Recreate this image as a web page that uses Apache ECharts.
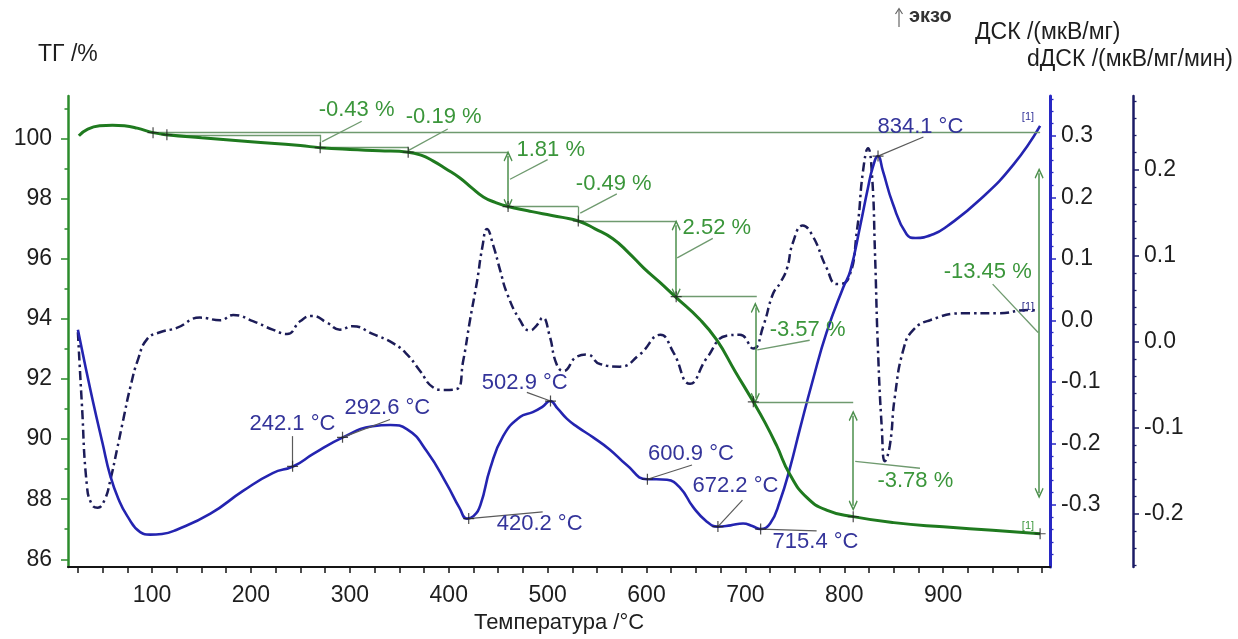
<!DOCTYPE html>
<html><head><meta charset="utf-8">
<script src="https://cdn.jsdelivr.net/npm/echarts@6/dist/echarts.min.js"></script>
<style>html,body{margin:0;padding:0;background:#fff}#c{width:1238px;height:639px}</style>
</head><body><div id="c"></div>
<script>
// ---------- data ----------
const tgT = [26, 35, 47, 60, 72, 85, 101, 115, 150, 200, 250, 270, 300, 330, 359, 372, 384, 397, 411, 423, 435, 447, 460, 480, 495, 515, 531, 548, 566, 582, 597, 613, 629, 654, 671, 689.5, 708, 720, 731.6, 745, 762, 782, 809, 850, 900, 950, 998];
const tgV = [100.1, 100.32, 100.43, 100.45, 100.43, 100.35, 100.2, 100.13, 100.03, 99.9, 99.77, 99.7, 99.64, 99.6, 99.55, 99.45, 99.26, 99.0, 98.7, 98.37, 98.06, 97.88, 97.74, 97.6, 97.5, 97.38, 97.26, 97.0, 96.67, 96.2, 95.7, 95.23, 94.74, 93.98, 93.3, 92.26, 91.24, 90.54, 89.78, 88.82, 88.06, 87.64, 87.42, 87.22, 87.08, 86.97, 86.85];

const dscT = [25, 32, 40, 50, 57.5, 66, 75, 88, 98, 110, 125, 159, 192, 222, 243, 263, 293, 323, 341, 358, 378, 398, 411, 418.5, 425, 432, 442, 455, 472, 485, 495, 502.5, 510, 519.6, 530, 546, 563, 580, 600.5, 610, 620.7, 634, 647, 661, 672, 685, 697.6, 707, 714.8, 725, 735, 745, 755, 768, 782, 799, 806, 816, 824, 829, 834, 839, 849, 863, 872, 890, 904, 937, 971, 998];
const dscV = [-0.015, -0.07, -0.13, -0.2, -0.251, -0.29, -0.318, -0.344, -0.348, -0.347, -0.34, -0.314, -0.277, -0.248, -0.237, -0.217, -0.19, -0.172, -0.17, -0.177, -0.213, -0.266, -0.305, -0.322, -0.318, -0.3, -0.24, -0.188, -0.157, -0.149, -0.14, -0.131, -0.143, -0.16, -0.173, -0.19, -0.21, -0.235, -0.258, -0.258, -0.259, -0.272, -0.303, -0.327, -0.335, -0.333, -0.33, -0.334, -0.339, -0.33, -0.293, -0.24, -0.177, -0.098, -0.02, 0.054, 0.08, 0.153, 0.216, 0.25, 0.267, 0.243, 0.19, 0.14, 0.134, 0.14, 0.153, 0.196, 0.253, 0.316];

const ddT = [25, 29, 34, 39, 45, 52, 58, 64.6, 71, 78, 86, 95, 108, 125, 148.5, 169, 182, 202, 222, 236.5, 250, 262, 277, 290, 303, 323, 344, 358, 371, 384, 394, 408, 414.5, 421.5, 428.6, 434, 438.7, 445, 452, 459, 472, 482, 489, 495, 502, 509, 516, 530, 540, 553, 573, 593, 614, 627, 644, 661, 681, 694.5, 708, 718, 728, 735, 742, 748, 758, 768, 782, 792.5, 804, 813, 819, 824, 828, 831, 834, 838, 841, 846, 851, 860, 870, 886.6, 920, 954, 988, 996];
const ddV = [0.011, -0.072, -0.166, -0.189, -0.193, -0.184, -0.16, -0.125, -0.09, -0.053, -0.02, 0.003, 0.011, 0.016, 0.028, 0.025, 0.031, 0.024, 0.014, 0.009, 0.024, 0.03, 0.022, 0.014, 0.018, 0.009, -0.002, -0.015, -0.034, -0.053, -0.056, -0.055, -0.023, 0.025, 0.07, 0.11, 0.131, 0.112, 0.083, 0.056, 0.025, 0.013, 0.019, 0.028, 0.007, -0.026, -0.034, -0.017, -0.015, -0.026, -0.029, -0.015, 0.008, -0.012, -0.049, -0.019, 0.007, 0.008, -0.008, 0.018, 0.056, 0.068, 0.085, 0.115, 0.135, 0.123, 0.086, 0.067, 0.073, 0.131, 0.199, 0.225, 0.194, 0.104, -0.008, -0.102, -0.139, -0.121, -0.065, -0.008, 0.014, 0.025, 0.033, 0.033, 0.037, 0.035];

// tick values / labels
const xTicks = [25, 50, 75, 100, 125, 150, 175, 200, 225, 250, 275, 300, 325, 350, 375, 400, 425, 450, 475, 500, 525, 550, 575, 600, 625, 650, 675, 700, 725, 750, 775, 800, 825, 850, 875, 900, 925, 950, 975, 1000];
const xLabels = [100, 200, 300, 400, 500, 600, 700, 800, 900];
const tgLabels = [86, 88, 90, 92, 94, 96, 98, 100];
const tgMinor = [87, 89, 91, 93, 95, 97, 99, 101];
const dscLabels = [-0.3, -0.2, -0.1, 0, 0.1, 0.2, 0.3];
const dscMinor = [-0.38, -0.36, -0.34, -0.32, -0.28, -0.26, -0.24, -0.22, -0.18, -0.16, -0.14, -0.12, -0.08, -0.06, -0.04, -0.02, 0.02, 0.04, 0.06, 0.08, 0.12, 0.14, 0.16, 0.18, 0.22, 0.24, 0.26, 0.28, 0.32, 0.34, 0.36];
const ddLabels = [-0.2, -0.1, 0, 0.1, 0.2];
const ddMinor = [-0.26, -0.24, -0.22, -0.18, -0.16, -0.14, -0.12, -0.08, -0.06, -0.04, -0.02, 0.02, 0.04, 0.06, 0.08, 0.12, 0.14, 0.16, 0.18, 0.22, 0.24, 0.26, 0.28];

// TG evaluation marks (data coordinates: temperature, %)
const tgMarkT = [101, 115, 270, 359, 460, 531, 630, 708, 809, 998];
const tgMarkV = [100.2, 100.13, 99.7, 99.55, 97.74, 97.26, 94.74, 91.24, 87.42, 86.85];
const tgHLines = [[101, 998, 100.22], [115, 270, 100.13], [270, 359, 99.7], [359, 460, 99.55], [460, 531, 97.74], [531, 630, 97.26], [630, 711.5, 94.74], [708, 809, 91.24]];
const tgVLines = [[270, 100.13, 99.7], [359, 99.7, 99.55], [531, 97.74, 97.26]];
const tgArrows = [[460, 99.42, 97.82], [630, 97.12, 94.84], [710, 94.38, 91.36], [809, 90.78, 87.78], [997, 98.85, 88.2]];
const tgLeaders = [[272, 99.9, 312, 100.58], [359, 99.6, 399, 100.32], [462, 98.65, 500, 99.3], [533, 97.52, 570, 98.16], [631, 96.03, 667, 96.68], [712, 92.97, 765, 93.29], [811, 89.26, 876.5, 89.03], [996, 93.55, 950, 95.16]];
const tgStepText = ['-0.43 %', '-0.19 %', '1.81 %', '-0.49 %', '2.52 %', '-3.57 %', '-3.78 %', '-13.45 %'];
const tgStepAt = [[268, 100.97], [356, 100.71], [468, 99.61], [528, 98.48], [636, 97.03], [724, 93.65], [833, 88.61], [900, 95.55]];

// DSC peak marks
const dscMarkT = [242.1, 292.6, 420.2, 502.9, 600.9, 672.2, 715.4, 834.1];
const dscMarkV = [-0.237, -0.19, -0.322, -0.131, -0.258, -0.335, -0.339, 0.267];
const dscLeaders = [[242.1, -0.237, 242.1, -0.188], [292.6, -0.19, 340.6, -0.161], [420.2, -0.322, 495, -0.311], [502.9, -0.131, 479, -0.117], [600.9, -0.258, 646, -0.235], [672.2, -0.335, 697, -0.292], [715.4, -0.339, 772, -0.342], [834.1, 0.267, 880, 0.298]];
const dscText = ['242.1 °C', '292.6 °C', '420.2 °C', '502.9 °C', '600.9 °C', '672.2 °C', '715.4 °C', '834.1 °C'];
const dscTextAt = [[198, -0.169], [294, -0.1425], [448, -0.33], [433, -0.1016], [601, -0.2165], [646, -0.2685], [727, -0.3606], [833, 0.3142]];

// ---------- drawing ----------
const FONT = '"Liberation Sans", Arial, Helvetica, sans-serif';
const zip = (a, b) => a.map((v, i) => [v, b[i]]);
const CROSS = 'path://M0,4.45 H10 V5.55 H0 Z M4.45,0 H5.55 V10 H4.45 Z';
const CHEV = 'path://M5,0 L10,9 L8.9,10 L5,3.3 L1.1,10 L0,9 Z';
const GREEN_TXT = '#3b963b', GREEN_LN = '#6f9a6f', GREEN_AR = '#4c8f4c';
const BLUE_TXT = '#34349a', GRAY_LN = '#5a5a5a';

function labelPoints(pos, texts, color, size) {
  return pos.map((p, i) => ({
    coord: p, symbol: 'circle', symbolSize: 1, itemStyle: {color: 'rgba(0,0,0,0)'},
    label: {show: true, position: 'right', distance: 0, formatter: texts[i], color: color, fontSize: size, fontFamily: FONT}
  }));
}

const tgMarkLines = []
  .concat(tgHLines.map(h => [{coord: [h[0], h[2]]}, {coord: [h[1], h[2]]}]))
  .concat(tgVLines.map(v => [{coord: [v[0], v[1]]}, {coord: [v[0], v[2]]}]))
  .concat(tgLeaders.map(l => [{coord: [l[0], l[1]]}, {coord: [l[2], l[3]]}]))
  .concat(tgArrows.map(a => [
    {coord: [a[0], a[1]], symbol: CHEV, symbolSize: [9, 11], lineStyle: {color: GREEN_AR, width: 1.5}},
    {coord: [a[0], a[2]], symbol: CHEV, symbolSize: [9, 11]}]));

const dscMarkLines = dscLeaders.map(l => [{coord: [l[0], l[1]]}, {coord: [l[2], l[3]]}]);

const chart = echarts.init(document.getElementById('c'), null, {renderer: 'canvas'});
const tickLbl = {fontSize: 23, color: '#1e1e1e', fontFamily: FONT};

chart.setOption({
  animation: false,
  backgroundColor: '#ffffff',
  grid: {left: 68, right: 188, top: 96, bottom: 57, containLabel: false},
  xAxis: [{
    type: 'value', min: 15, max: 1008,
    axisLine: {show: true, onZero: false, lineStyle: {color: '#151515', width: 2}},
    axisTick: {show: true, customValues: xTicks, length: 6, lineStyle: {color: '#151515', width: 1.5}},
    axisLabel: Object.assign({customValues: xLabels, margin: 17, formatter: v => String(v)}, tickLbl),
    splitLine: {show: false},
    name: 'Температура /°C', nameLocation: 'middle', nameGap: 34,
    nameTextStyle: {fontSize: 22, color: '#1e1e1e', fontFamily: FONT}
  }],
  yAxis: [
    {type: 'value', position: 'left', min: 85.74, max: 101.42,
     axisLine: {show: true, onZero: false, lineStyle: {color: '#2c8c2c', width: 2.5}},
     axisTick: {show: true, customValues: tgLabels, length: 7, lineStyle: {color: '#2c8c2c', width: 1.5}},
     axisLabel: Object.assign({customValues: tgLabels, margin: 16, formatter: v => String(v)}, tickLbl),
     splitLine: {show: false}},
    {type: 'value', position: 'right', offset: 0, min: -0.4008, max: 0.3646,
     axisLine: {show: true, onZero: false, lineStyle: {color: '#2828c4', width: 3}},
     axisTick: {show: true, customValues: dscLabels, length: 6, lineStyle: {color: '#2828c4', width: 1.5}},
     axisLabel: Object.assign({customValues: dscLabels, margin: 11, formatter: v => v.toFixed(1)}, tickLbl),
     splitLine: {show: false}},
    {type: 'value', position: 'right', offset: 83, min: -0.262, max: 0.2856,
     axisLine: {show: true, onZero: false, lineStyle: {color: '#1c1c66', width: 2.5}},
     axisTick: {show: true, customValues: ddLabels, length: 6, lineStyle: {color: '#1c1c66', width: 1.5}},
     axisLabel: Object.assign({customValues: ddLabels, margin: 11, formatter: v => v.toFixed(1)}, tickLbl),
     splitLine: {show: false}},
    {type: 'value', position: 'left', min: 85.74, max: 101.42,
     axisLine: {show: false}, axisLabel: {show: false}, splitLine: {show: false},
     axisTick: {show: true, customValues: tgMinor, length: 3.5, lineStyle: {color: '#2c8c2c', width: 1.5}}},
    {type: 'value', position: 'right', offset: 0, min: -0.4008, max: 0.3646,
     axisLine: {show: false}, axisLabel: {show: false}, splitLine: {show: false},
     axisTick: {show: true, customValues: dscMinor, length: 3.5, lineStyle: {color: '#2828c4', width: 1.3}}},
    {type: 'value', position: 'right', offset: 83, min: -0.262, max: 0.2856,
     axisLine: {show: false}, axisLabel: {show: false}, splitLine: {show: false},
     axisTick: {show: true, customValues: ddMinor, length: 3.5, lineStyle: {color: '#1c1c66', width: 1.3}}}
  ],
  series: [
    {type: 'line', name: 'ТГ', yAxisIndex: 0, data: zip(tgT, tgV), showSymbol: false, symbol: 'none',
     smooth: 0.5, lineStyle: {color: '#1f7a1f', width: 3}, z: 5,
     markLine: {silent: true, symbol: ['none', 'none'], label: {show: false}, animation: false,
                lineStyle: {color: GREEN_LN, width: 1.3, type: 'solid'}, emphasis: {disabled: true}, data: tgMarkLines},
     markPoint: {silent: true, animation: false,
                 data: labelPoints(tgStepAt, tgStepText, GREEN_TXT, 22).concat(
                       labelPoints([[979, 87.1]], ['[1]'], GREEN_TXT, 11))}},
    {type: 'line', name: 'ДСК', yAxisIndex: 1, data: zip(dscT, dscV), showSymbol: false, symbol: 'none',
     smooth: 0.5, lineStyle: {color: '#2424b0', width: 2.6}, z: 4,
     markLine: {silent: true, symbol: ['none', 'none'], label: {show: false}, animation: false,
                lineStyle: {color: GRAY_LN, width: 1.2, type: 'solid'}, emphasis: {disabled: true}, data: dscMarkLines},
     markPoint: {silent: true, animation: false,
                 data: labelPoints(dscTextAt, dscText, BLUE_TXT, 22).concat(
                       labelPoints([[979, 0.33]], ['[1]'], BLUE_TXT, 11))}},
    {type: 'line', name: 'dДСК', yAxisIndex: 2, data: zip(ddT, ddV), showSymbol: false, symbol: 'none',
     smooth: 0.5, lineStyle: {color: '#1c1c58', width: 2.5, type: [9, 4, 2.5, 4]}, z: 3,
     markPoint: {silent: true, animation: false,
                 data: labelPoints([[979, 0.04]], ['[1]'], '#2a2a88', 11)}},
    {type: 'scatter', yAxisIndex: 0, data: zip(tgMarkT, tgMarkV), symbol: CROSS, symbolSize: 11,
     itemStyle: {color: '#202020'}, z: 6, silent: true},
    {type: 'scatter', yAxisIndex: 1, data: zip(dscMarkT, dscMarkV), symbol: CROSS, symbolSize: 11,
     itemStyle: {color: '#202020'}, z: 6, silent: true}
  ],
  graphic: [
    {type: 'text', left: 38, top: 43, style: {text: 'ТГ /%', font: '23px ' + FONT, fill: '#1e1e1e'}},
    {type: 'text', left: 975, top: 21, style: {text: 'ДСК /(мкВ/мг)', font: '23px ' + FONT, fill: '#1e1e1e'}},
    {type: 'text', right: 5, top: 48, style: {text: 'dДСК /(мкВ/мг/мин)', font: '23px ' + FONT, fill: '#1e1e1e'}},
    {type: 'text', left: 909, top: 6, style: {text: 'экзо', font: 'bold 20px ' + FONT, fill: '#333'}},
    {type: 'line', shape: {x1: 899, y1: 27, x2: 899, y2: 9}, style: {stroke: '#666', lineWidth: 1.2}},
    {type: 'polyline', shape: {points: [[895.5, 14], [899, 8.5], [902.5, 14]]}, style: {stroke: '#666', lineWidth: 1.2, fill: null}}
  ]
});
</script>
</body></html>
